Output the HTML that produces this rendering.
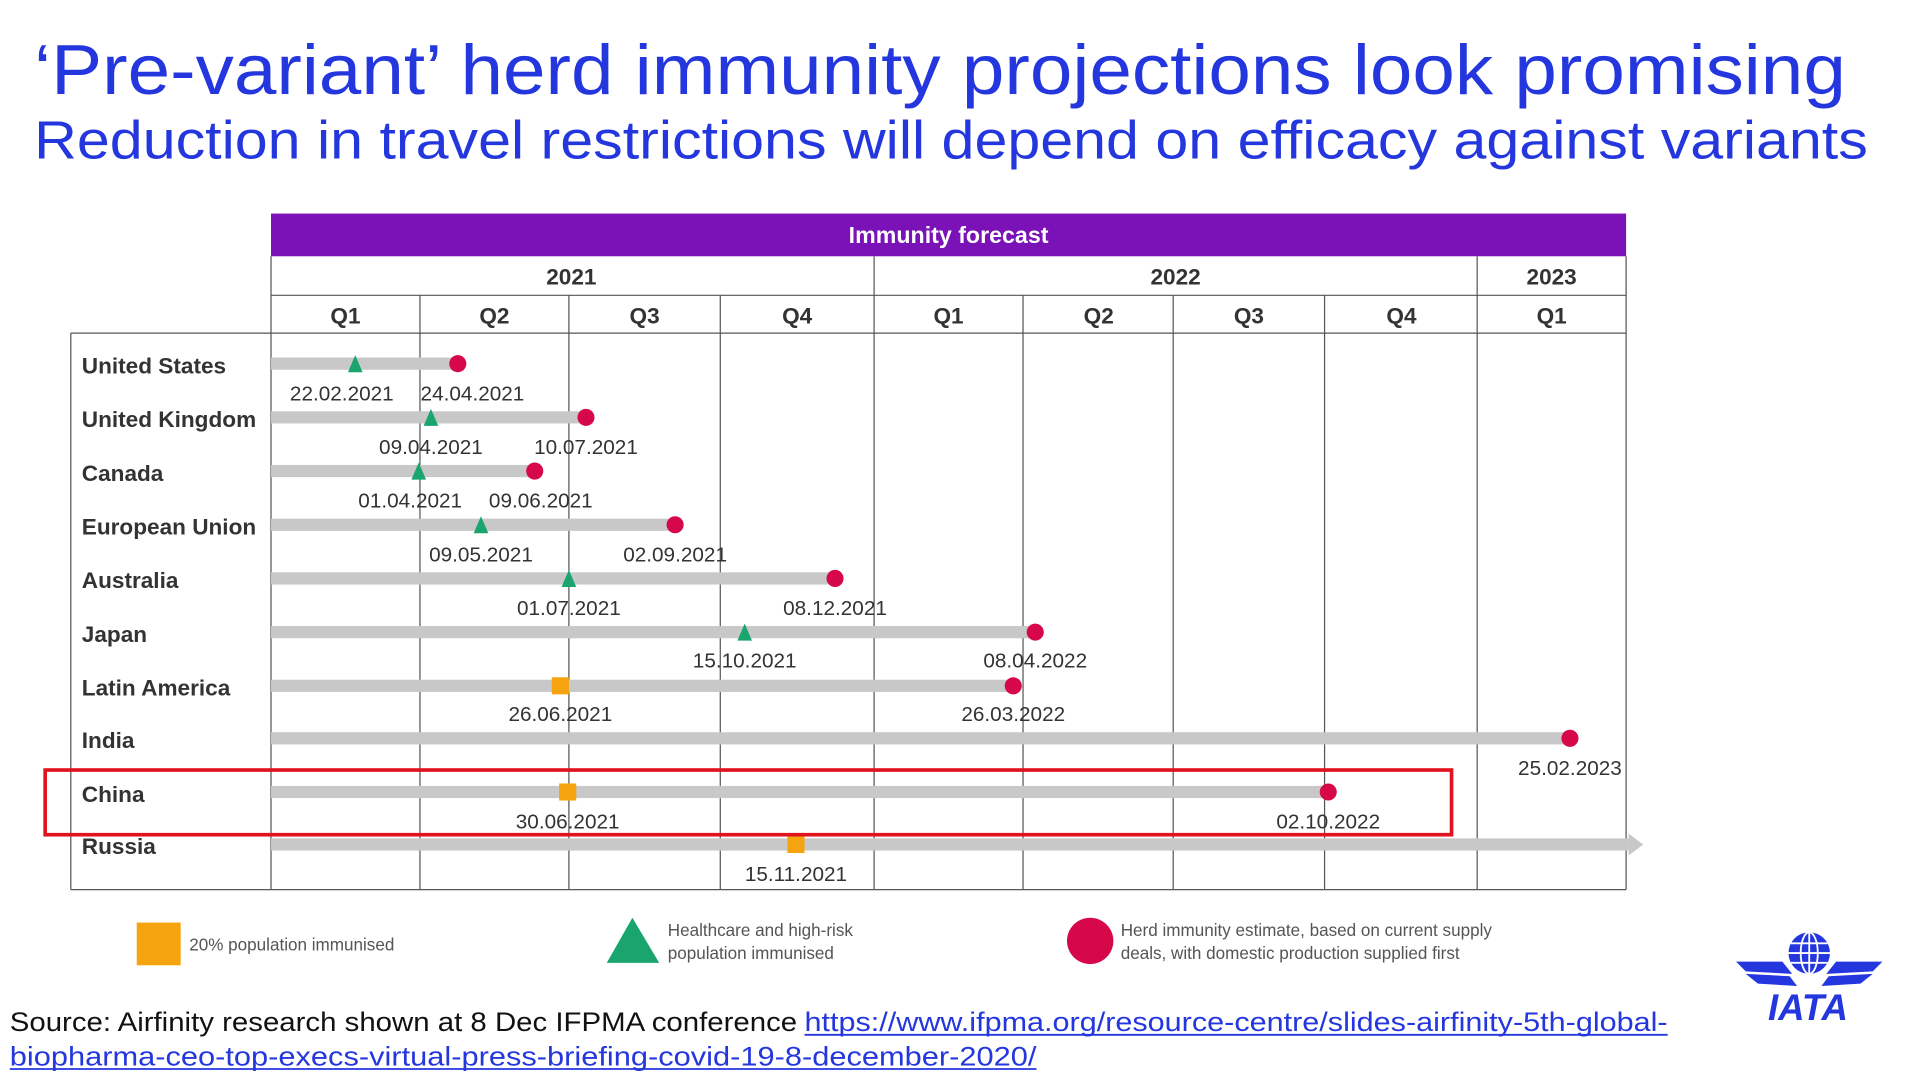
<!DOCTYPE html>
<html><head><meta charset="utf-8"><style>
html,body{margin:0;padding:0;background:#fff;width:1913px;height:1080px;overflow:hidden}
svg{display:block}
.c{font-family:"Liberation Sans Narrow","Liberation Sans",sans-serif;fill:#333}
.cl{font-weight:bold;font-size:18.5px}
.d{font-size:17px;text-anchor:middle}
.q{font-size:18.5px;font-weight:bold;text-anchor:middle}
.lg{font-size:14px;fill:#555}
</style></head><body>
<svg width="1913" height="1080" viewBox="0 0 1567 885" preserveAspectRatio="none" xmlns="http://www.w3.org/2000/svg">
<g font-family="Liberation Sans, sans-serif" fill="#2436dd">
<text x="28" y="77" font-size="58" textLength="1484" lengthAdjust="spacingAndGlyphs">‘Pre-variant’ herd immunity projections look promising</text>
<text x="28" y="130" font-size="44" textLength="1502" lengthAdjust="spacingAndGlyphs">Reduction in travel restrictions will depend on efficacy against variants</text>
</g>
<rect x="222" y="175" width="1110" height="35" fill="#7a12b8"/>
<text x="777" y="199" font-family="Liberation Sans Narrow, Liberation Sans, sans-serif" font-weight="bold" font-size="19" fill="#fff" text-anchor="middle">Immunity forecast</text>
<g stroke="#555" stroke-width="1" fill="none">
<line x1="222" y1="210" x2="222" y2="729"/>
<line x1="1332" y1="210" x2="1332" y2="729"/>
<line x1="222" y1="242" x2="1332" y2="242"/>
<line x1="58" y1="273" x2="1332" y2="273"/>
<line x1="58" y1="273" x2="58" y2="729"/>
<line x1="58" y1="729" x2="1332" y2="729"/>
<line x1="716" y1="210" x2="716" y2="242"/>
<line x1="1210" y1="210" x2="1210" y2="242"/>
<line x1="344" y1="242" x2="344" y2="729"/><line x1="466" y1="242" x2="466" y2="729"/><line x1="590" y1="242" x2="590" y2="729"/><line x1="716" y1="242" x2="716" y2="729"/><line x1="838" y1="242" x2="838" y2="729"/><line x1="961" y1="242" x2="961" y2="729"/><line x1="1085" y1="242" x2="1085" y2="729"/><line x1="1210" y1="242" x2="1210" y2="729"/>
</g>
<g class="c q">
<text x="468" y="233">2021</text><text x="963" y="233">2022</text><text x="1271" y="233">2023</text>
<text x="283" y="265">Q1</text><text x="405" y="265">Q2</text><text x="528" y="265">Q3</text><text x="653" y="265">Q4</text><text x="777" y="265">Q1</text><text x="900" y="265">Q2</text><text x="1023" y="265">Q3</text><text x="1148" y="265">Q4</text><text x="1271" y="265">Q1</text>
</g>
<g class="c cl">
<text x="67" y="306">United States</text><text x="67" y="350">United Kingdom</text><text x="67" y="394">Canada</text><text x="67" y="438">European Union</text><text x="67" y="482">Australia</text><text x="67" y="526">Japan</text><text x="67" y="570">Latin America</text><text x="67" y="613">India</text><text x="67" y="657">China</text><text x="67" y="700">Russia</text>
</g>
<g fill="#c8c8c8">
<rect x="222" y="293" width="153" height="10"/>
<rect x="222" y="337" width="258" height="10"/>
<rect x="222" y="381" width="216" height="10"/>
<rect x="222" y="425" width="331" height="10"/>
<rect x="222" y="469" width="462" height="10"/>
<rect x="222" y="513" width="626" height="10"/>
<rect x="222" y="557" width="608" height="10"/>
<rect x="222" y="600" width="1064" height="10"/>
<rect x="222" y="644" width="866" height="10"/>
<rect x="222" y="687" width="1112" height="10"/>
<polygon points="1334,683 1346,692 1334,701"/>
</g>
<g fill="#d6084a">
<circle cx="375" cy="298" r="7"/><circle cx="480" cy="342" r="7"/><circle cx="438" cy="386" r="7"/><circle cx="553" cy="430" r="7"/><circle cx="684" cy="474" r="7"/><circle cx="848" cy="518" r="7"/><circle cx="830" cy="562" r="7"/><circle cx="1286" cy="605" r="7"/><circle cx="1088" cy="649" r="7"/>
</g>
<g fill="#1aa56e">
<polygon points="291,291 285,305 297,305"/><polygon points="353,335 347,349 359,349"/><polygon points="343,379 337,393 349,393"/><polygon points="394,423 388,437 400,437"/><polygon points="466,467 460,481 472,481"/><polygon points="610,511 604,525 616,525"/>
</g>
<g fill="#f5a40f">
<rect x="452" y="555" width="14" height="14"/><rect x="458" y="642" width="14" height="14"/><rect x="645" y="685" width="14" height="14"/>
</g>
<g class="c d">
<text x="280" y="328">22.02.2021</text><text x="387" y="328">24.04.2021</text>
<text x="353" y="372">09.04.2021</text><text x="480" y="372">10.07.2021</text>
<text x="336" y="416">01.04.2021</text><text x="443" y="416">09.06.2021</text>
<text x="394" y="460">09.05.2021</text><text x="553" y="460">02.09.2021</text>
<text x="466" y="504">01.07.2021</text><text x="684" y="504">08.12.2021</text>
<text x="610" y="547">15.10.2021</text><text x="848" y="547">08.04.2022</text>
<text x="459" y="591">26.06.2021</text><text x="830" y="591">26.03.2022</text>
<text x="1286" y="635">25.02.2023</text>
<text x="465" y="679">30.06.2021</text><text x="1088" y="679">02.10.2022</text>
<text x="652" y="722">15.11.2021</text>
</g>
<rect x="37" y="631" width="1152" height="53" fill="none" stroke="#e0141e" stroke-width="3"/>
<rect x="112" y="756" width="36" height="35" fill="#f5a40f"/>
<text class="c lg" x="155" y="779">20% population immunised</text>
<polygon points="518,752 497,789 540,789" fill="#1aa56e"/>
<text class="c lg" x="547" y="767">Healthcare and high-risk</text>
<text class="c lg" x="547" y="786">population immunised</text>
<circle cx="893" cy="771" r="19" fill="#d6084a"/>
<text class="c lg" x="918" y="767">Herd immunity estimate, based on current supply</text>
<text class="c lg" x="918" y="786">deals, with domestic production supplied first</text>
<g font-family="Liberation Sans, sans-serif" font-size="22">
<text x="8" y="845" fill="#111" textLength="645" lengthAdjust="spacingAndGlyphs">Source: Airfinity research shown at 8 Dec IFPMA conference</text>
<text x="659" y="845" fill="#2436dd" textLength="707" lengthAdjust="spacingAndGlyphs">https://www.ifpma.org/resource-centre/slides-airfinity-5th-global-</text>
<text x="8" y="873" fill="#2436dd" textLength="841" lengthAdjust="spacingAndGlyphs">biopharma-ceo-top-execs-virtual-press-briefing-covid-19-8-december-2020/</text>
<line x1="659" y1="848" x2="1366" y2="848" stroke="#2436dd" stroke-width="1.5"/>
<line x1="8" y1="876" x2="849" y2="876" stroke="#2436dd" stroke-width="1.5"/>
</g>
<g fill="#2436dd">
<circle cx="1482" cy="781" r="17"/>
<g stroke="#fff" stroke-width="1.5" fill="none"><ellipse cx="1482" cy="781" rx="7" ry="17"/><line x1="1482" y1="764" x2="1482" y2="798"/><line x1="1465" y1="781" x2="1499" y2="781"/><line x1="1467" y1="773" x2="1497" y2="773"/><line x1="1467" y1="789" x2="1497" y2="789"/></g>
<polygon points="1422,788 1460,788 1468,798 1430,796"/><polygon points="1430,798 1466,800 1472,808 1440,806"/>
<polygon points="1542,788 1504,788 1496,798 1534,796"/><polygon points="1534,798 1498,800 1492,808 1524,806"/>
<text x="1481" y="836" font-family="Liberation Sans, sans-serif" font-weight="bold" font-style="italic" font-size="30" text-anchor="middle">IATA</text>
</g>
</svg>
</body></html>
